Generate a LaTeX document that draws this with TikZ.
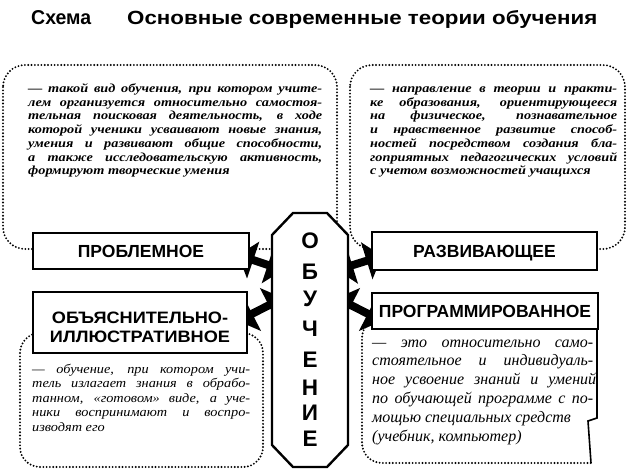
\documentclass[tikz,border=0pt]{standalone}
\usepackage{fontspec}
\usepackage{graphicx}
\setmainfont{Liberation Serif}
\newfontfamily\hd{Liberation Sans}
\newfontfamily\hdw[FakeStretch=1.1]{Liberation Sans}
\newfontfamily\tfont[FakeStretch=1.16]{Liberation Serif}
\newfontfamily\bfontw[FakeStretch=1.1]{Liberation Serif}
\usetikzlibrary{arrows.meta}
\newcommand{\JL}[2]{\makebox[#1][s]{#2}}
\tikzset{
  dotbox/.style={line width=2.1pt, dash pattern=on 0pt off 3.3pt, line cap=round},
  lbox/.style={draw, line width=2.3pt, fill=white, inner sep=0pt,
    font=\hd\bfseries\fontsize{17.5}{18}\selectfont, text height=12.6pt, text depth=0pt},
  lbl/.style={inner sep=0pt, anchor=base, font=\hdw\bfseries\fontsize{16.5}{18}\selectfont},
  fatarrow/.style={line width=8pt, arrows={Triangle[length=16pt,width=38pt]-Triangle[length=16pt,width=38pt]}},
  octa/.style={draw, line width=2.4pt, fill=white, line join=miter},
  letter/.style={inner sep=0pt, font=\hd\bfseries\fontsize{22.5}{22}\selectfont},
  ttl/.style={anchor=base west, inner sep=0pt, font=\hd\bfseries\fontsize{20}{22}\selectfont},
  toptext/.style={anchor=base west, inner sep=0pt, font=\tfont\bfseries\itshape\fontsize{12.3}{13}\selectfont},
  bltext/.style={anchor=base west, inner sep=0pt, font=\bfontw\itshape\fontsize{13}{14}\selectfont},
  brtext/.style={anchor=base west, inner sep=0pt, font=\itshape\fontsize{16}{16}\selectfont},
}
\begin{document}
\begin{tikzpicture}[x=1pt,y=-1pt]
\useasboundingbox (0,0) rectangle (629,471);
\fill[white] (0,0) rectangle (629,471);

% title
\node[ttl] (sx) at (31,24) {\resizebox{60pt}{14pt}{Схема}};
\node[ttl] (title) at (127,24) {\resizebox{470pt}{14pt}{Основные современные теории обучения}};

% dotted frames
\draw[dotbox, rounded corners=22pt] (3,65) rectangle (337,249);
\draw[dotbox, rounded corners=22pt] (350,65) rectangle (625,249);
\draw[dotbox, rounded corners=20pt] (20,333) rectangle (263,467);
\draw[dotbox, rounded corners=20pt] (385,318) -- (362,318) -- (362,463) -- (592,463);
\draw[line width=1.6pt] (597,329) -- (597,418) -- (588,421) -- (591,463);

% arrow end coordinates
\coordinate (a1) at (238,255);
\coordinate (a2) at (283,270);
\coordinate (b1) at (238,321);
\coordinate (b2) at (283,298);
\coordinate (c1) at (382,256);
\coordinate (c2) at (337,270);
\coordinate (d1) at (382,321);
\coordinate (d2) at (337,298);
\draw[fatarrow] (a1) -- (a2);
\draw[fatarrow] (b1) -- (b2);
\draw[fatarrow] (c1) -- (c2);
\draw[fatarrow] (d1) -- (d2);

% boxes
\node[lbox, minimum width=216pt, minimum height=36pt] (prob) at (141,251) {ПРОБЛЕМНОЕ};
\node[lbox, minimum width=225pt, minimum height=38pt] (razv) at (484.5,251) {РАЗВИВАЮЩЕЕ};
\node[lbox, minimum width=226pt, minimum height=36pt] (prog) at (485,311) {ПРОГРАММИРОВАННОЕ};
\node[lbox, minimum width=214pt, minimum height=61pt] (obj) at (140,322.5) {};
\node[lbl] (objt1) at (140,323.5) {ОБЪЯСНИТЕЛЬНО-};
\node[lbl] (objt2) at (140,342) {ИЛЛЮСТРАТИВНОЕ};

% central octagon
\draw[octa] (293,213) -- (327,213) -- (348,235) -- (348,445) -- (327,467)
  -- (293,467) -- (272,445) -- (272,235) -- cycle;
\node[letter] (o1) at (310,240.5) {О};
\node[letter] (o2) at (310,272) {Б};
\node[letter] (o3) at (310,299) {У};
\node[letter] (o4) at (310,328.5) {Ч};
\node[letter] (o5) at (310,360) {Е};
\node[letter] (o6) at (310,387.5) {Н};
\node[letter] (o7) at (310,413) {И};
\node[letter] (o8) at (310,439) {Е};

% top-left text
\node[toptext] (tl1) at (28,92.5) {\JL{294pt}{— такой вид обучения, при котором учите-}};
\node[toptext] (tl2) at (28,106.2) {\JL{294pt}{лем организуется относительно самостоя-}};
\node[toptext] (tl3) at (28,119.9) {\JL{294pt}{тельная поисковая деятельность, в ходе}};
\node[toptext] (tl4) at (28,133.6) {\JL{294pt}{которой ученики усваивают новые знания,}};
\node[toptext] (tl5) at (28,147.3) {\JL{294pt}{умения и развивают общие способности,}};
\node[toptext] (tl6) at (28,161) {\JL{294pt}{а также исследовательскую активность,}};
\node[toptext] (tl7) at (28,174.7) {формируют творческие умения};

% top-right text
\node[toptext] (tr1) at (370,92.5) {\JL{247pt}{— направление в теории и практи-}};
\node[toptext] (tr2) at (370,106.2) {\JL{247pt}{ке образования, ориентирующееся}};
\node[toptext] (tr3) at (370,119.9) {\JL{247pt}{на физическое, познавательное}};
\node[toptext] (tr4) at (370,133.6) {\JL{247pt}{и нравственное развитие способ-}};
\node[toptext] (tr5) at (370,147.3) {\JL{247pt}{ностей посредством создания бла-}};
\node[toptext] (tr6) at (370,161) {\JL{247pt}{гоприятных педагогических условий}};
\node[toptext] (tr7) at (370,174.7) {с учетом возможностей учащихся};

% bottom-left text
\node[bltext] (bl1) at (32,373) {\JL{218pt}{— обучение, при котором учи-}};
\node[bltext] (bl2) at (32,387.5) {\JL{218pt}{тель излагает знания в обрабо-}};
\node[bltext] (bl3) at (32,402) {\JL{218pt}{танном, «готовом» виде, а уче-}};
\node[bltext] (bl4) at (32,416.5) {\JL{218pt}{ники воспринимают и воспро-}};
\node[bltext] (bl5) at (32,431) {изводят его};

% bottom-right text
\node[brtext] (br1) at (372,347) {\JL{221pt}{— это относительно само-}};
\node[brtext] (br2) at (372,365.8) {\JL{221pt}{стоятельное и индивидуаль-}};
\node[brtext] (br3) at (372,384.6) {\JL{224pt}{ное усвоение знаний и умений}};
\node[brtext] (br4) at (372,403.4) {\JL{221pt}{по обучающей программе с по-}};
\node[brtext] (br5) at (372,422.2) {мощью специальных средств};
\node[brtext] (br6) at (372,441) {(учебник, компьютер)};
\end{tikzpicture}
\end{document}
